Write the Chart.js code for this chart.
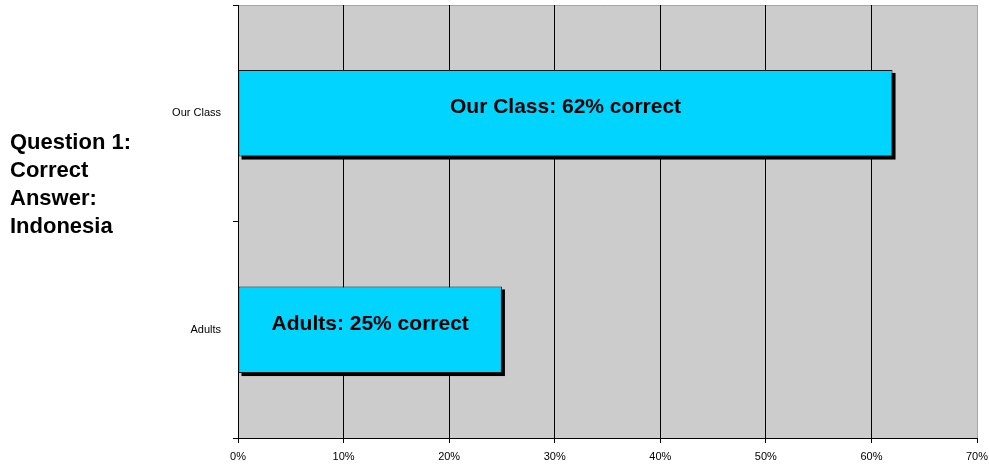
<!DOCTYPE html>
<html>
<head>
<meta charset="utf-8">
<script src="https://cdn.jsdelivr.net/npm/chart.js@4/dist/chart.umd.min.js"></script>
<style>
  html, body { margin: 0; padding: 0; background: #fff; }
  #wrap { position: relative; width: 989px; height: 465px; }
  #side {
    position: absolute; left: 10px; top: 128px;
    font: bold 22px "Liberation Sans", Arial, sans-serif; line-height: 28px; color: #000;
  }
</style>
</head>
<body>
<div id="wrap">
  <canvas id="c" width="989" height="465"></canvas>
  <div id="side"></div>
</div>
<script>
// chart data
var categories = ['Our Class', 'Adults'];
var values = [62, 25];
var sideLines = ['Question 1:', 'Correct', 'Answer:', 'Indonesia'];
var xMax = 70;

document.getElementById('side').innerHTML = sideLines.join('<br>');

var FONT = "'Liberation Sans', Arial, sans-serif";

// grey plot background with a light top border
var plotBg = {
  id: 'plotBg',
  beforeDraw: function (chart) {
    var a = chart.chartArea, ctx = chart.ctx;
    ctx.save();
    ctx.fillStyle = '#cccccc';
    ctx.fillRect(a.left, a.top, a.right - a.left, a.bottom - a.top);
    ctx.strokeStyle = '#a6a6a6';
    ctx.lineWidth = 1;
    ctx.beginPath();
    ctx.moveTo(a.left, a.top + 0.5);
    ctx.lineTo(a.right, a.top + 0.5);
    ctx.stroke();
    ctx.restore();
  }
};

// hard black drop shadow behind each bar (bar element clips its own shadow)
var barShadow = {
  id: 'barShadow',
  beforeDatasetDraw: function (chart) {
    var ctx = chart.ctx;
    var meta = chart.getDatasetMeta(0);
    ctx.save();
    ctx.fillStyle = '#000';
    meta.data.forEach(function (bar) {
      var left = Math.min(bar.x, bar.base), right = Math.max(bar.x, bar.base);
      var top = bar.y - bar.height / 2;
      ctx.fillRect(left + 3, top + 3, right - left, bar.height);
    });
    ctx.restore();
  }
};

// "Label: NN% correct" text inside each bar
var barText = {
  id: 'barText',
  afterDatasetsDraw: function (chart) {
    var ctx = chart.ctx;
    var meta = chart.getDatasetMeta(0);
    ctx.save();
    ctx.font = 'bold 21px ' + FONT;
    ctx.fillStyle = '#000';
    ctx.textAlign = 'center';
    ctx.textBaseline = 'middle';
    meta.data.forEach(function (bar, i) {
      var cx = (bar.x + bar.base) / 2;
      ctx.fillText(categories[i] + ': ' + values[i] + '% correct', cx, bar.y - 6);
    });
    ctx.restore();
  }
};

new Chart(document.getElementById('c').getContext('2d'), {
  type: 'bar',
  data: {
    labels: categories,
    datasets: [{
      data: values,
      backgroundColor: '#00d4ff',
      borderColor: '#1a1a1a',
      borderWidth: 1,
      borderSkipped: false,
      barPercentage: 0.4,
      categoryPercentage: 1
    }]
  },
  options: {
    indexAxis: 'y',
    responsive: false,
    animation: false,
    layout: { padding: { top: 5, right: 12, bottom: 0, left: 0 } },
    plugins: { legend: { display: false }, tooltip: { enabled: false } },
    scales: {
      x: {
        min: 0, max: xMax,
        afterFit: function (s) { s.height = 27; s.paddingLeft = 0; s.paddingRight = 0; },
        ticks: {
          stepSize: 10, color: '#000', padding: 7,
          font: { family: FONT, size: 11 },
          callback: function (v) { return v + '%'; }
        },
        grid: {
          color: function (c) { return c.tick && c.tick.value === xMax ? '#a6a6a6' : '#000'; },
          tickColor: '#000', tickLength: 5, lineWidth: 1
        },
        border: { display: true, color: '#000' }
      },
      y: {
        afterFit: function (s) { s.width = 238; s.paddingTop = 0; s.paddingBottom = 0; },
        ticks: { color: '#000', padding: 12, font: { family: FONT, size: 11 } },
        grid: { offset: true, drawOnChartArea: false, tickColor: '#000', tickLength: 5 },
        border: { display: true, color: '#000' }
      }
    }
  },
  plugins: [plotBg, barShadow, barText]
});
</script>
</body>
</html>
